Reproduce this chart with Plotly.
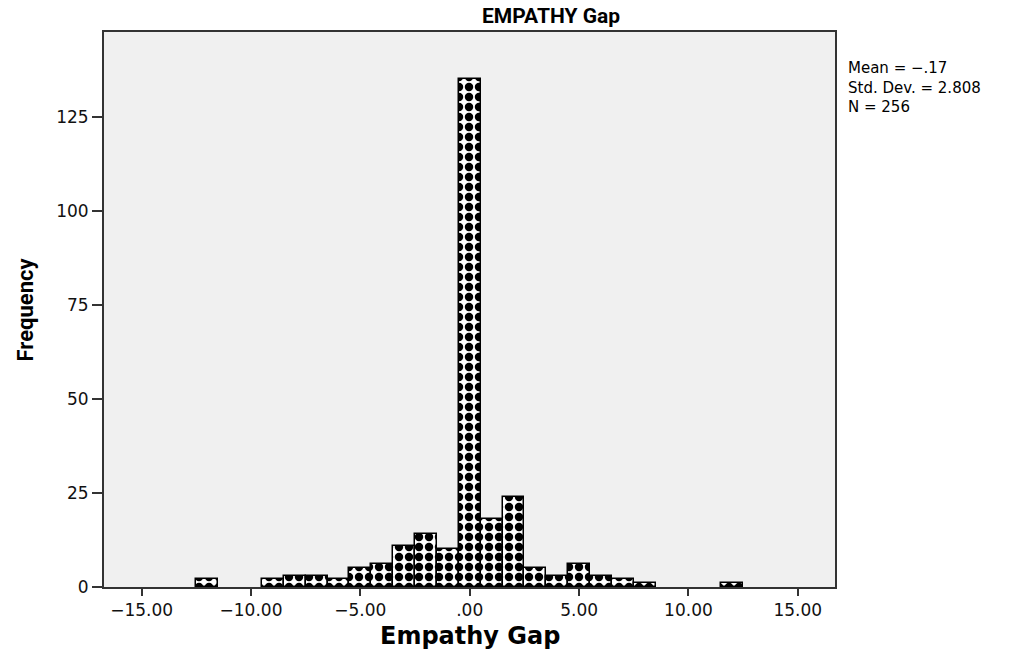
import plotly.graph_objects as go

# Histogram of the empathy gap scores (bin centres, width 1)
bin_centers = [-12, -9, -8, -7, -6, -5, -4, -3, -2, -1, 0, 1, 2, 3, 4, 5, 6, 7, 8, 12]
frequencies = [2, 2, 3, 3, 2, 5, 6, 11, 14, 10, 135, 18, 24, 5, 3, 6, 3, 2, 1, 1]

x_tick_values = [-15, -10, -5, 0, 5, 10, 15]
x_tick_labels = ["\u221215.00", "\u221210.00", "\u22125.00", ".00", "5.00", "10.00", "15.00"]
y_tick_values = [0, 25, 50, 75, 100, 125]

stats_lines = ["Mean = \u2212.17", "Std. Dev. = 2.808", "N = 256"]

fig = go.Figure()
fig.add_trace(go.Bar(
    x=bin_centers,
    y=frequencies,
    width=[1] * len(bin_centers),
    marker=dict(
        color="white",
        line=dict(color="black", width=1.5),
        pattern=dict(shape=".", fgcolor="black", bgcolor="white",
                     size=10, solidity=0.56, fillmode="replace"),
    ),
    hoverinfo="x+y",
))

axis_line = "#333333"
tick_font = dict(family="DejaVu Sans", size=17, color="#111111")

fig.update_layout(
    width=1016, height=649,
    margin=dict(l=104, r=181, t=32, b=62),
    paper_bgcolor="white",
    plot_bgcolor="#f0f0f0",
    bargap=0,
    showlegend=False,
    xaxis=dict(
        range=[-16.72, 16.7],
        tickvals=x_tick_values, ticktext=x_tick_labels,
        ticks="outside", ticklen=7, tickwidth=1.5, tickcolor=axis_line,
        showline=True, linecolor=axis_line, linewidth=2, mirror=True,
        showgrid=False, zeroline=False, tickfont=tick_font,
    ),
    yaxis=dict(
        range=[0, 147.5],
        tickvals=y_tick_values,
        ticks="outside", ticklen=10, tickwidth=1.5, tickcolor=axis_line,
        showline=True, linecolor=axis_line, linewidth=2, mirror=True,
        showgrid=False, zeroline=False, tickfont=tick_font,
    ),
)

# Chart title
fig.add_annotation(
    text="<b>EMPATHY Gap</b>", xref="paper", yref="paper",
    x=(551 - 104) / (1016 - 104 - 181), y=1, yshift=16, yanchor="middle",
    showarrow=False, font=dict(family="Roboto", size=21, color="black"),
)
# Axis titles
fig.add_annotation(
    text="<b>Empathy Gap</b>", xref="paper", yref="paper",
    x=0.5, y=0, yshift=-49, yanchor="middle",
    showarrow=False, font=dict(family="DejaVu Sans", size=24, color="black"),
)
fig.add_annotation(
    text="<b>Frequency</b>", xref="paper", yref="paper",
    x=0, xshift=-79, y=0.5, xanchor="center", textangle=-90,
    showarrow=False, font=dict(family="Roboto", size=22, color="black"),
)
# Summary statistics block
fig.add_annotation(
    text="<br>".join(stats_lines), xref="paper", yref="paper",
    x=1, xshift=11, xanchor="left", align="left",
    y=1, yshift=-25, yanchor="top",
    showarrow=False, font=dict(family="DejaVu Sans", size=15, color="black"),
)

fig.write_html("out.html")
